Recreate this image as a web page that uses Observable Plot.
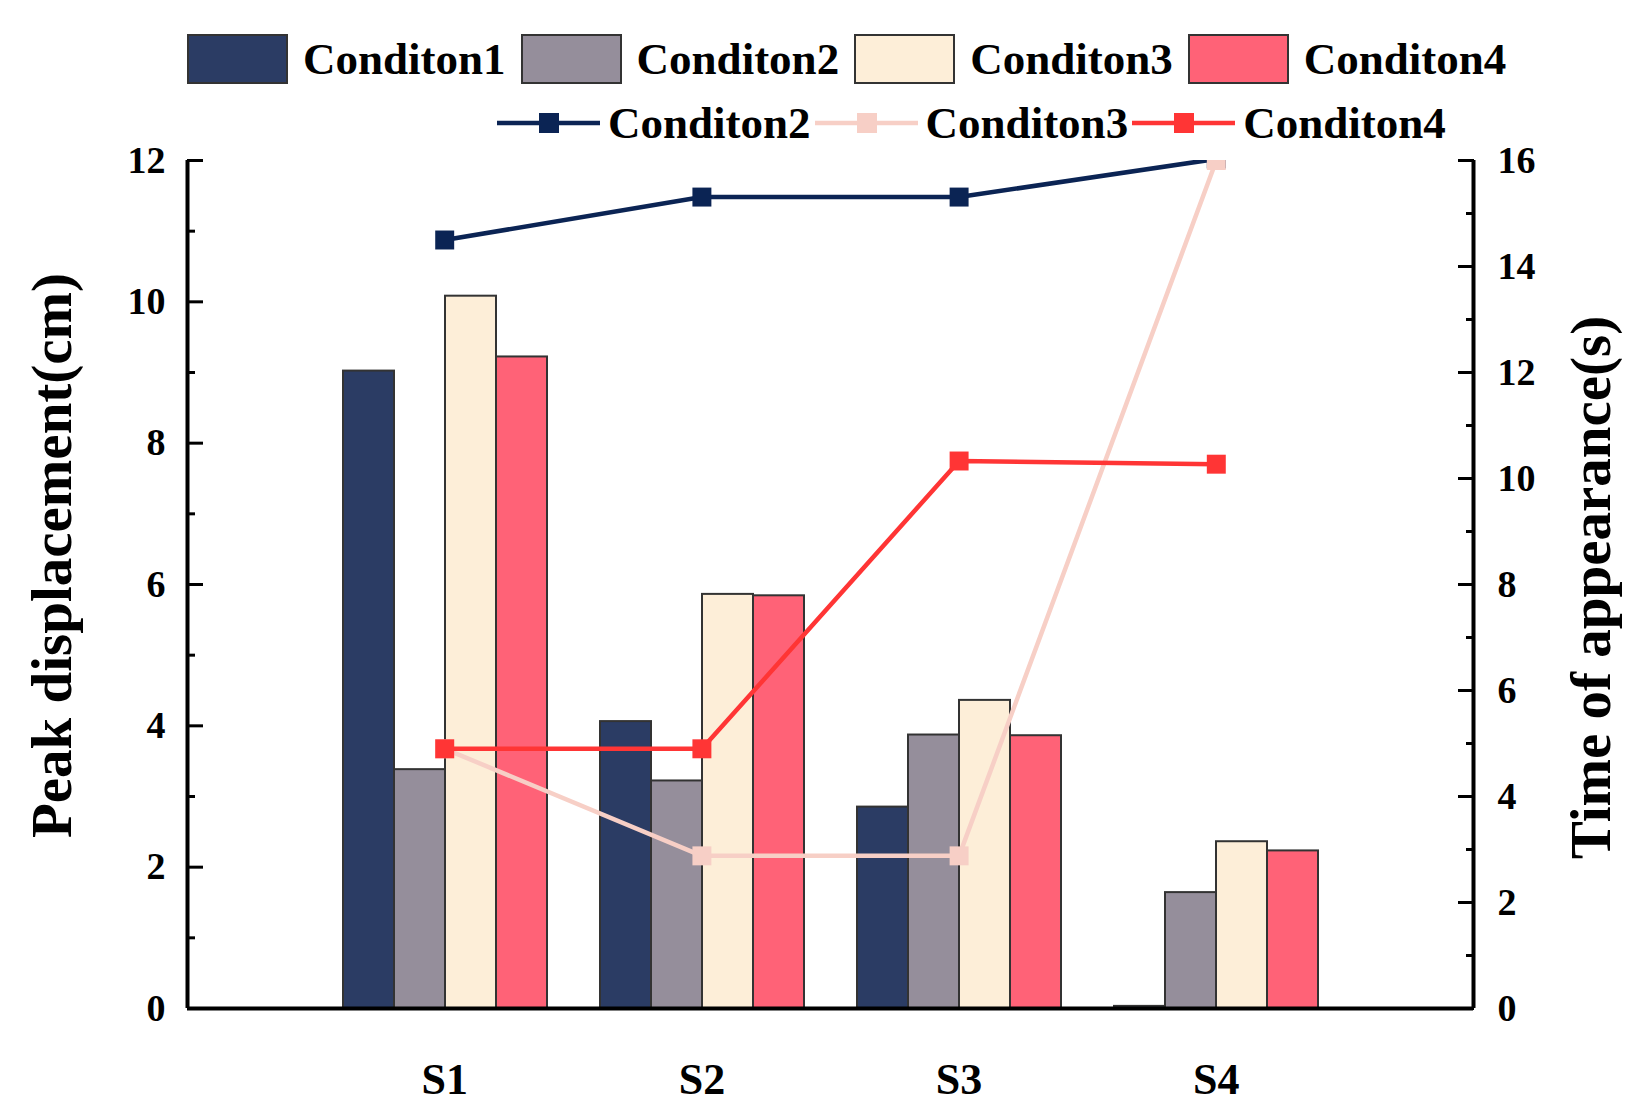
<!DOCTYPE html>
<html><head><meta charset="utf-8">
<script src="https://cdn.jsdelivr.net/npm/d3@7"></script>
<script src="https://cdn.jsdelivr.net/npm/@observablehq/plot@0.6"></script>
<style>
body{margin:0;background:#fff;}
#wrap{position:relative;width:1639px;height:1119px;font-family:"Liberation Serif","Times New Roman",serif;font-weight:bold;color:#000;}
#legend{position:relative;width:1639px;height:140px;}
.row{position:absolute;display:flex;align-items:center;white-space:nowrap;font-size:45px;line-height:1;}
.sw{box-sizing:border-box;width:101px;height:50px;border:2px solid #333;}
#chart{position:relative;width:1639px;height:979px;}
#chart svg{position:absolute;left:0;top:0;}
</style></head>
<body><div id="wrap"><div id="legend"></div><div id="chart"></div></div>
<script>
// ---- data ----
const categories = ["S1", "S2", "S3", "S4"];
const barConditions = ["Conditon1", "Conditon2", "Conditon3", "Conditon4"];
const barColors = ["#2b3c64", "#958e9b", "#fdeed8", "#ff6277"];
const peakCondition1 = [9.02, 4.06, 2.85, 0.03];
const peakCondition2 = [3.38, 3.22, 3.87, 1.64];
const peakCondition3 = [10.08, 5.86, 4.36, 2.36];
const peakCondition4 = [9.22, 5.84, 3.86, 2.23];
const lineConditions = ["Conditon2", "Conditon3", "Conditon4"];
const lineColors = ["#0b2454", "#f7cfc6", "#ff3535"];
const timeCondition2 = [14.5, 15.31, 15.31, 16.03];
const timeCondition3 = [4.9, 2.88, 2.88, 16.0];
const timeCondition4 = [4.9, 4.9, 10.33, 10.27];
const leftTicks = [0, 2, 4, 6, 8, 10, 12];
const leftMinor = [1, 3, 5, 7, 9, 11];
const rightTicks = [0, 2, 4, 6, 8, 10, 12, 14, 16];
const rightMinor = [1, 3, 5, 7, 9, 11, 13, 15];
const leftLabel = "Peak displacement(cm)";
const rightLabel = "Time of appearance(s)";

const peakSeries = [peakCondition1, peakCondition2, peakCondition3, peakCondition4];
const timeSeries = [timeCondition2, timeCondition3, timeCondition4];
const barData = [];
peakSeries.forEach((vals, j) => vals.forEach((v, i) => barData.push({cat: categories[i], cond: barConditions[j], value: v})));
const lineData = timeSeries.map((vals, j) => vals.map((v, i) => ({cat: categories[i], idx: i + 1, cond: lineConditions[j], value: v})));

// ---- legend ----
const legend = document.getElementById("legend");
const row1 = document.createElement("div");
row1.className = "row"; row1.style.left = "187px"; row1.style.top = "34px"; row1.style.height = "50px";
barConditions.forEach((c, j) => {
  const sw = document.createElement("div"); sw.className = "sw"; sw.style.background = barColors[j];
  const t = document.createElement("span"); t.textContent = c; t.style.marginLeft = "15px"; t.style.marginRight = j < 3 ? "15px" : "0";
  row1.appendChild(sw); row1.appendChild(t);
});
legend.appendChild(row1);
const row2 = document.createElement("div");
row2.className = "row"; row2.style.left = "497px"; row2.style.top = "101px"; row2.style.height = "44px";
lineConditions.forEach((c, j) => {
  const ns = "http://www.w3.org/2000/svg";
  const s = document.createElementNS(ns, "svg"); s.setAttribute("width", 103); s.setAttribute("height", 24);
  const l = document.createElementNS(ns, "line"); l.setAttribute("x1", 0); l.setAttribute("x2", 103); l.setAttribute("y1", 12); l.setAttribute("y2", 12);
  l.setAttribute("stroke", lineColors[j]); l.setAttribute("stroke-width", 4.5);
  const r = document.createElementNS(ns, "rect"); r.setAttribute("x", 42); r.setAttribute("y", 2); r.setAttribute("width", 20); r.setAttribute("height", 20); r.setAttribute("fill", lineColors[j]);
  s.appendChild(l); s.appendChild(r);
  const t = document.createElement("span"); t.textContent = c; t.style.marginLeft = "8px"; t.style.marginRight = j < 2 ? "4px" : "0";
  row2.appendChild(s); row2.appendChild(t);
});
legend.appendChild(row2);

// ---- chart ----
const W = 1639, H = 979;
const M = {marginTop: 20, marginBottom: 111, marginLeft: 187, marginRight: 166};
const baseStyle = {fontFamily: "Liberation Serif, Times New Roman, serif", fontWeight: "bold", fontSize: "38px", color: "#000", background: "transparent", overflow: "visible"};

const barsPlot = Plot.plot({
  width: W, height: H, ...M, style: baseStyle,
  fx: {domain: categories, paddingInner: 0.2, paddingOuter: 0.6, axis: null, label: null},
  x: {domain: barConditions, padding: 0, axis: null},
  y: {domain: [0, 12], axis: null},
  color: {domain: barConditions, range: barColors},
  marks: [
    Plot.barY(barData, {fx: "cat", x: "cond", y: "value", fill: "cond", stroke: "#333", strokeWidth: 2})
  ]
});

const leftPlot = Plot.plot({
  width: W, height: H, ...M, style: baseStyle,
  x: {domain: [0, categories.length + 1], axis: null},
  y: {domain: [0, 12], axis: null},
  marks: [
    Plot.axisY({anchor: "left", ticks: leftTicks, tickSize: -16, tickPadding: 38, strokeWidth: 3, label: null}),
    Plot.axisY({anchor: "left", ticks: leftMinor, tickSize: -8, tickFormat: () => "", strokeWidth: 3, label: null}),
    Plot.axisX({anchor: "bottom", ticks: [1, 2, 3, 4], tickFormat: i => categories[i - 1], tickSize: 0, tickPadding: 54, fontSize: 44, label: null}),
    Plot.text([leftLabel], {text: d => d, frameAnchor: "left", textAnchor: "middle", rotate: -90, dx: -135, dy: -29, fontSize: 57}),
    Plot.ruleX([0], {strokeWidth: 4}),
    Plot.ruleY([0], {strokeWidth: 4})
  ]
});

const rightPlot = Plot.plot({
  width: W, height: H, ...M, style: baseStyle,
  x: {domain: [0, categories.length + 1], axis: null},
  y: {domain: [0, 16], axis: null},
  marks: [
    ...lineData.flatMap((series, j) => [
      Plot.line(series, {x: "idx", y: "value", stroke: lineColors[j], strokeWidth: 4.5, clip: true}),
      Plot.dot(series, {x: "idx", y: "value", symbol: "square", r: 10.7, fill: lineColors[j], clip: true})
    ]),
    Plot.axisY({anchor: "right", ticks: rightTicks, tickSize: -16, tickPadding: 40, strokeWidth: 3, label: null}),
    Plot.axisY({anchor: "right", ticks: rightMinor, tickSize: -8, tickFormat: () => "", strokeWidth: 3, label: null}),
    Plot.text([rightLabel], {text: d => d, frameAnchor: "right", textAnchor: "middle", rotate: -90, dx: 118, dy: 3, fontSize: 57}),
    Plot.ruleX([categories.length + 1], {strokeWidth: 4})
  ]
});

const chart = document.getElementById("chart");
chart.appendChild(barsPlot);
chart.appendChild(leftPlot);
chart.appendChild(rightPlot);
</script>
</body></html>
